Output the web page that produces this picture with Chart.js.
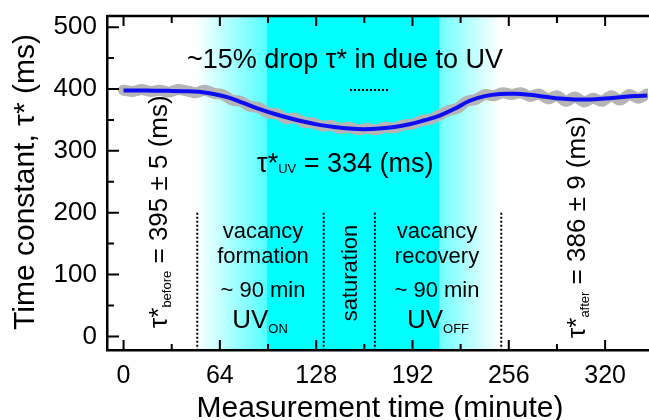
<!DOCTYPE html>
<html>
<head>
<meta charset="utf-8">
<script src="https://cdn.jsdelivr.net/npm/chart.js@4.4.1/dist/chart.umd.min.js"></script>
<style>
html, body { margin: 0; padding: 0; background: #fff; }
#wrap { width: 649px; height: 420px; }
</style>
</head>
<body>
<div id="wrap"><canvas id="tauChart" width="649" height="420"></canvas></div>
<script>
// Thời gian đo (phút) và hằng số thời gian τ* (ms)
const fitTime = [0, 10, 20, 30, 40, 50, 60, 70, 80, 90, 100, 110, 120, 130, 140, 150, 160, 170, 180, 190,
  200, 210, 220, 230, 240, 250, 260, 270, 280, 290, 300, 310, 320, 330, 340, 348];
const fitTau = [397.5, 397.5, 397.3, 397, 396.5, 395.5, 392, 386, 377, 368, 360, 353, 347, 342, 338.5, 336, 335, 336, 338.5, 343,
  349.5, 357, 368, 381, 388.5, 392, 392.3, 390.5, 387.5, 384.5, 383, 383, 384.5, 386.5, 388.5, 389.5];

// Dữ liệu đo thô (dải xám)
const rawTime = [0, 6, 12, 18, 24, 30, 36, 42, 48, 54, 60, 66, 72, 78, 84, 90, 96, 102, 108, 114,
  120, 126, 132, 138, 144, 150, 156, 162, 168, 174, 180, 186, 192, 198, 204, 210, 216, 222, 228, 234,
  240, 246, 252, 258, 264, 270, 276, 282, 288, 294, 300, 306, 312, 318, 324, 330, 336, 342, 348];
const rawTau = [398, 396, 399, 396, 398, 395, 399, 397, 394, 398, 393, 391, 382, 380, 372, 370, 361, 360, 352, 353,
  346, 345, 340, 341, 336, 338, 334, 336, 334, 338, 337, 342, 343, 349, 351, 358, 365, 369, 380, 383,
  391, 389, 394, 391, 394, 388, 392, 384, 389, 380, 387, 379, 385, 380, 389, 382, 391, 385, 392];

const xMajorTicks = [0, 64, 128, 192, 256, 320];
const xMinorTicks = [32, 96, 160, 224, 288];
const yMajorTicks = [0, 100, 200, 300, 400, 500];
const yMinorTicks = [50, 150, 250, 350, 450];

// Ranh giới các giai đoạn (phút) và vùng chiếu UV
const phaseBounds = [49, 133, 167, 251];
const uvBand = [48, 95, 210, 250]; // bắt đầu mờ, bắt đầu đậm, hết đậm, hết mờ

const FONT = '"Liberation Sans", Arial, Helvetica, sans-serif';

// Vẽ chữ có chỉ số dưới
function richText(ctx, parts, x, y, align) {
  let w = 0;
  parts.forEach(p => {
    ctx.font = p.size + 'px ' + FONT;
    p.w = ctx.measureText(p.t).width;
    w += p.w;
  });
  let cx = align === 'center' ? x - w / 2 : x;
  ctx.textAlign = 'left';
  ctx.textBaseline = 'alphabetic';
  parts.forEach(p => {
    ctx.font = p.size + 'px ' + FONT;
    ctx.fillText(p.t, cx, y + (p.dy || 0));
    cx += p.w;
  });
}

function rotatedText(ctx, parts, x, y, align) {
  ctx.save();
  ctx.translate(x, y);
  ctx.rotate(-Math.PI / 2);
  richText(ctx, parts, 0, 0, align);
  ctx.restore();
}

// Nền màu xanh cho vùng chiếu UV
const uvBackground = {
  id: 'uvBackground',
  beforeDraw(chart) {
    const ctx = chart.ctx;
    const a = chart.chartArea;
    const xs = chart.scales.x;
    const p = uvBand.map(v => xs.getPixelForValue(v));
    const h = a.bottom - a.top;
    ctx.save();
    let g = ctx.createLinearGradient(p[0], 0, p[1], 0);
    g.addColorStop(0, '#ffffff');
    g.addColorStop(1, '#55ffff');
    ctx.fillStyle = g;
    ctx.fillRect(p[0], a.top, p[1] - p[0], h);
    ctx.fillStyle = '#00ffff';
    ctx.fillRect(p[1], a.top, p[2] - p[1], h);
    g = ctx.createLinearGradient(p[2], 0, p[3], 0);
    g.addColorStop(0, '#70ffff');
    g.addColorStop(1, '#ffffff');
    ctx.fillStyle = g;
    ctx.fillRect(p[2], a.top, p[3] - p[2], h);
    ctx.restore();
  }
};

// Vạch chia hướng vào trong, trục trên, chú thích
const overlay = {
  id: 'overlay',
  afterDraw(chart) {
    const ctx = chart.ctx;
    const a = chart.chartArea;
    const xs = chart.scales.x;
    const ys = chart.scales.y;
    ctx.save();
    ctx.strokeStyle = '#000';
    ctx.fillStyle = '#000';

    // đường trục trên
    ctx.lineWidth = 2.5;
    ctx.beginPath();
    ctx.moveTo(a.left, a.top);
    ctx.lineTo(a.right + 2, a.top);
    ctx.stroke();

    ctx.lineWidth = 2;
    ctx.beginPath();
    xMajorTicks.forEach(v => {
      const px = xs.getPixelForValue(v);
      ctx.moveTo(px, a.bottom); ctx.lineTo(px, a.bottom - 10);
      ctx.moveTo(px, a.top); ctx.lineTo(px, a.top + 10);
    });
    xMinorTicks.forEach(v => {
      const px = xs.getPixelForValue(v);
      ctx.moveTo(px, a.bottom); ctx.lineTo(px, a.bottom - 6);
      ctx.moveTo(px, a.top); ctx.lineTo(px, a.top + 7);
    });
    yMajorTicks.forEach(v => {
      const py = ys.getPixelForValue(v);
      ctx.moveTo(a.left, py); ctx.lineTo(a.left + 12, py);
    });
    yMinorTicks.forEach(v => {
      const py = ys.getPixelForValue(v);
      ctx.moveTo(a.left, py); ctx.lineTo(a.left + 7, py);
    });
    ctx.stroke();

    // đường chấm ranh giới giai đoạn
    ctx.setLineDash([2, 2]);
    ctx.lineWidth = 2;
    ctx.beginPath();
    phaseBounds.forEach(v => {
      const px = xs.getPixelForValue(v);
      ctx.moveTo(px, ys.getPixelForValue(200));
      ctx.lineTo(px, a.bottom);
    });
    ctx.moveTo(350, 90);
    ctx.lineTo(388, 90);
    ctx.stroke();
    ctx.setLineDash([]);

    // chú thích
    richText(ctx, [{ t: '~15% drop \u03c4* in due to UV', size: 27 }], 345, 68, 'center');
    richText(ctx, [
      { t: '\u03c4*', size: 27 },
      { t: 'UV', size: 13, dy: 1 },
      { t: ' = 334 (ms)', size: 27 }
    ], 257, 172, 'left');

    rotatedText(ctx, [
      { t: '\u03c4*', size: 26 },
      { t: 'before', size: 13, dy: 4 },
      { t: ' = 395 \u00b1 5 (ms)', size: 26 }
    ], 167, 328, 'left');
    rotatedText(ctx, [
      { t: '\u03c4*', size: 26 },
      { t: 'after', size: 13, dy: 4 },
      { t: ' = 386 \u00b1 9 (ms)', size: 26 }
    ], 585, 338, 'left');

    [['vacancy', 238], ['formation', 263], ['~ 90 min', 297]].forEach(r => {
      richText(ctx, [{ t: r[0], size: 22 }], 263, r[1], 'center');
    });
    richText(ctx, [{ t: 'UV', size: 26 }, { t: 'ON', size: 13, dy: 5 }], 260, 328, 'center');

    rotatedText(ctx, [{ t: 'saturation', size: 22 }], 357, 273, 'center');

    [['vacancy', 238], ['recovery', 263], ['~ 90 min', 297]].forEach(r => {
      richText(ctx, [{ t: r[0], size: 22 }], 437, r[1], 'center');
    });
    richText(ctx, [{ t: 'UV', size: 26 }, { t: 'OFF', size: 13, dy: 5 }], 438, 328, 'center');

    // tên trục
    richText(ctx, [{ t: 'Measurement time (minute)', size: 30 }], 380, 417, 'center');
    rotatedText(ctx, [{ t: 'Time constant, \u03c4* (ms)', size: 30 }], 34, 182, 'center');

    ctx.restore();
  }
};

const ctx = document.getElementById('tauChart').getContext('2d');
new Chart(ctx, {
  type: 'line',
  data: {
    datasets: [
      {
        label: 'fit',
        data: fitTime.map((t, i) => ({ x: t, y: fitTau[i] })),
        borderColor: '#0c0cf5',
        borderWidth: 4,
        pointRadius: 0,
        tension: 0.4,
        fill: false
      },
      {
        label: 'raw',
        data: rawTime.map((t, i) => ({ x: t, y: rawTau[i] })),
        borderColor: '#b5b5b5',
        borderWidth: 11,
        borderJoinStyle: 'round',
        borderCapStyle: 'round',
        pointRadius: 0,
        tension: 0.3,
        fill: false
      }
    ]
  },
  options: {
    responsive: false,
    animation: false,
    layout: { padding: { top: 16, right: 1, left: 0, bottom: 0 } },
    plugins: {
      legend: { display: false },
      tooltip: { enabled: false }
    },
    scales: {
      x: {
        type: 'linear',
        min: -11,
        max: 348.5,
        afterBuildTicks: scale => { scale.ticks = xMajorTicks.map(v => ({ value: v })); },
        afterFit: scale => {
          scale.height = 70;
          scale.paddingLeft = 0;
          scale.paddingRight = 0;
        },
        grid: { display: false, drawTicks: false },
        border: { display: true, color: '#000', width: 2.5 },
        ticks: {
          color: '#000',
          padding: 11,
          maxRotation: 0,
          font: { family: FONT, size: 25 }
        }
      },
      y: {
        min: -22,
        max: 518,
        afterBuildTicks: scale => { scale.ticks = yMajorTicks.map(v => ({ value: v })); },
        afterFit: scale => {
          scale.width = 107;
          scale.paddingTop = 0;
          scale.paddingBottom = 0;
        },
        grid: { display: false, drawTicks: false },
        border: { display: true, color: '#000', width: 2.5 },
        ticks: {
          color: '#000',
          padding: 10,
          font: { family: FONT, size: 26 }
        }
      }
    }
  },
  plugins: [uvBackground, overlay]
});
</script>
</body>
</html>
